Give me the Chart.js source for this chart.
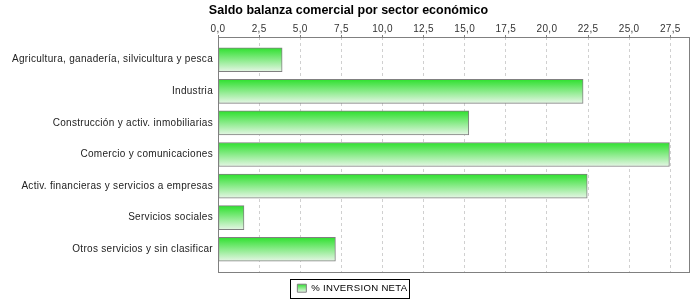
<!DOCTYPE html>
<html lang="es">
<head>
<meta charset="UTF-8">
<title>Saldo balanza comercial por sector económico</title>
<script src="https://cdn.jsdelivr.net/npm/chart.js"></script>
<style>
  html, body { margin: 0; padding: 0; background: #fff; }
  #wrap { width: 700px; height: 300px; }
</style>
</head>
<body>
<div id="wrap"><canvas id="chart"></canvas></div>
<script>
// --- data ---
const categories = [
  'Agricultura, ganadería, silvicultura y pesca',
  'Industria',
  'Construcción y activ. inmobiliarias',
  'Comercio y comunicaciones',
  'Activ. financieras y servicios a empresas',
  'Servicios sociales',
  'Otros servicios y sin clasificar'
];
const inversionNeta = [3.9, 22.2, 15.25, 27.45, 22.45, 1.58, 7.14];
const seriesName = '% INVERSION NETA';
const chartTitle = 'Saldo balanza comercial por sector económico';
const xTicks = [0, 2.5, 5, 7.5, 10, 12.5, 15, 17.5, 20, 22.5, 25, 27.5];
const xMax = 28.7;

const GREEN_TOP = '#2ee02e';
const GREEN_BOTTOM = '#e6f6e6';
const GREY = '#808080';
const FONT = 'Liberation Sans, Arial, sans-serif';

function barGradient(ctx, y0, y1) {
  const g = ctx.createLinearGradient(0, y0, 0, y1);
  g.addColorStop(0, GREEN_TOP);
  g.addColorStop(1, GREEN_BOTTOM);
  return g;
}

// axis/legend text in the original is a bit letter-spaced
const spacing = {
  id: 'spacing',
  beforeDraw(chart) { chart.ctx.letterSpacing = '0.3px'; }
};

// push the legend row a little lower, as in the original
const legendNudge = {
  id: 'legendNudge',
  afterLayout(chart) {
    chart.legend.top += 3;
    chart.legend.bottom += 3;
  }
};

// outline round the plot, box round the legend, and the title
const frames = {
  id: 'frames',
  afterDraw(chart) {
    const { ctx, chartArea: a } = chart;
    ctx.save();
    ctx.letterSpacing = '0px';
    ctx.strokeStyle = GREY;
    ctx.lineWidth = 1;
    ctx.strokeRect(Math.round(a.left) + 0.5, Math.round(a.top) + 0.5,
                   Math.round(a.right - a.left) - 1, Math.round(a.bottom - a.top));
    const hb = chart.legend.legendHitBoxes[0];
    if (hb) {
      ctx.strokeStyle = '#000';
      ctx.strokeRect(Math.round(hb.left) - 6.5, Math.round(hb.top) - 3.5,
                     Math.round(hb.width) + 14, 19);
    }
    ctx.fillStyle = '#000';
    ctx.font = 'bold 12.5px ' + FONT;
    ctx.textAlign = 'center';
    ctx.textBaseline = 'alphabetic';
    ctx.fillText(chartTitle, 348.5, 14);
    ctx.restore();
  }
};

new Chart(document.getElementById('chart'), {
  type: 'bar',
  data: {
    datasets: [{
      label: seriesName,
      data: inversionNeta.map((v, i) => ({ x: v, y: i })),
      backgroundColor(c) {
        const ys = c.chart.scales.y;
        if (!ys || c.dataIndex === undefined) return GREEN_TOP;
        const y = ys.getPixelForValue(c.dataIndex);
        return barGradient(c.chart.ctx, y - 12, y + 12);
      },
      borderColor: GREY,
      borderWidth: 1,
      borderSkipped: false,
      barThickness: 24
    }]
  },
  options: {
    indexAxis: 'y',
    responsive: true,
    maintainAspectRatio: false,
    animation: false,
    layout: { padding: { left: 10, right: 10, top: 19, bottom: 0 } },
    scales: {
      x: {
        type: 'linear',
        position: 'top',
        min: 0,
        max: xMax,
        afterBuildTicks(s) { s.ticks = xTicks.map(v => ({ value: v })); },
        afterFit(s) { s.height = 18; },
        grid: {
          color: '#d0d0d0',
          drawTicks: true,
          tickLength: 2,
          tickColor: GREY,
          tickBorderDash: []
        },
        border: { display: false, dash: [3, 3] },
        ticks: {
          padding: 0,
          color: '#333',
          font: { family: FONT, size: 10 },
          callback: v => v.toFixed(1).replace('.', ',')
        }
      },
      y: {
        type: 'linear',
        reverse: true,
        offset: false,
        min: -0.72,
        max: categories.length - 1 + 0.72,
        afterBuildTicks(s) { s.ticks = categories.map((c, i) => ({ value: i })); },
        afterFit(s) { s.width = 208; },
        grid: { display: false, drawTicks: false, tickLength: 0 },
        border: { display: false },
        ticks: {
          padding: 5,
          color: '#222',
          font: { family: FONT, size: 10 },
          callback: v => categories[v]
        }
      }
    },
    plugins: {
      title: { display: false },
      legend: {
        position: 'bottom',
        labels: {
          padding: 8.4,
          boxWidth: 9,
          boxHeight: 8,
          color: '#000',
          font: { family: FONT, size: 9.6 },
          generateLabels(chart) {
            const h = chart.height;
            return [{
              text: seriesName,
              fillStyle: barGradient(chart.ctx, h - 16, h - 8),
              strokeStyle: GREY,
              lineWidth: 1,
              datasetIndex: 0
            }];
          }
        }
      },
      tooltip: { enabled: false }
    }
  },
  plugins: [spacing, legendNudge, frames]
});
</script>
</body>
</html>
